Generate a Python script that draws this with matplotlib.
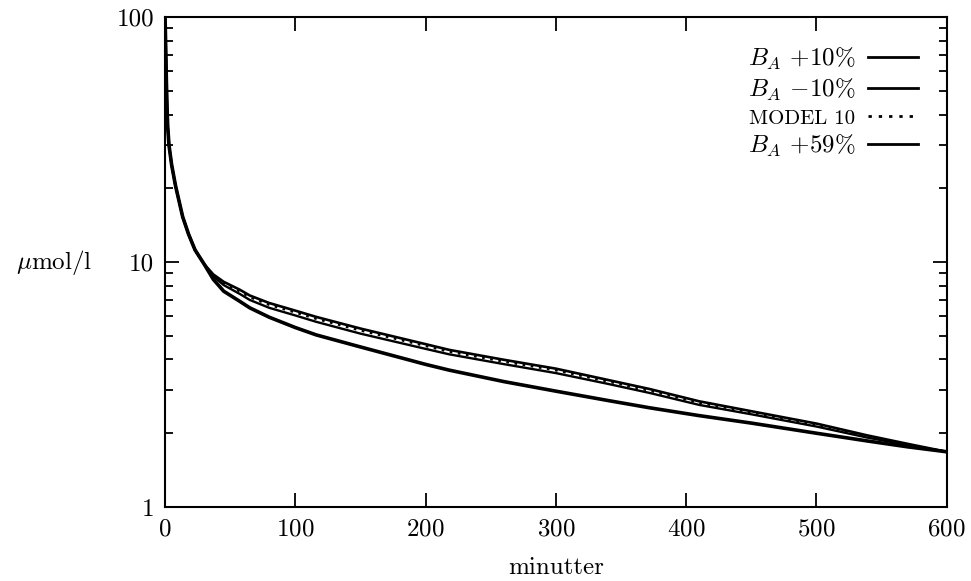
import numpy as np
import matplotlib
matplotlib.use('Agg')
import matplotlib.pyplot as plt
from matplotlib.ticker import FixedLocator, LogLocator, NullFormatter

plt.rcParams['font.family'] = 'serif'
plt.rcParams['font.serif'] = ['cmr10', 'DejaVu Serif']
plt.rcParams['mathtext.fontset'] = 'cm'
plt.rcParams['axes.formatter.use_mathtext'] = True

# values (minutes, umol/l)
t_early = [0, 0.5, 1, 1.5, 2, 3, 5, 8, 13.5, 18, 23, 30]
c_early = [100, 75, 55, 43, 36, 30, 25, 20.5, 15.3, 13.0, 11.2, 9.8]

t_late = [37, 45, 57.5, 65, 80, 100, 116, 150, 200, 218, 260, 300, 340, 372, 410, 450, 500, 539, 570, 600]
c_plus10 = [8.75, 8.05, 7.4, 7.0, 6.5, 6.05, 5.7, 5.1, 4.42, 4.2, 3.83, 3.52, 3.18, 2.92, 2.61, 2.39, 2.13, 1.92, 1.79, 1.68]
c_plus59 = [8.9, 8.3, 7.7, 7.3, 6.8, 6.33, 5.97, 5.35, 4.62, 4.38, 3.99, 3.67, 3.3, 3.03, 2.7, 2.46, 2.19, 1.96, 1.81, 1.68]
c_model10 = [8.85, 8.2, 7.58, 7.18, 6.68, 6.22, 5.86, 5.25, 4.54, 4.3, 3.92, 3.61, 3.25, 2.98, 2.66, 2.43, 2.16, 1.94, 1.8, 1.68]
c_minus10 = [8.5, 7.6, 6.9, 6.5, 5.95, 5.4, 5.04, 4.5, 3.82, 3.62, 3.25, 2.97, 2.72, 2.54, 2.36, 2.2, 2.0, 1.86, 1.76, 1.68]

fig = plt.figure(figsize=(9.71, 5.81), dpi=100)
ax = fig.add_axes([0.170, 0.1274, 0.805, 0.8433])

t_all = t_early + t_late
ax.plot(t_all, c_early + c_plus10, color='black', lw=1.7, label=r'$B_A$ +10%')
ax.plot(t_all, c_early + c_minus10, color='black', lw=2.6, label=r'$B_A$ $-$10%')
ax.plot(t_all, c_early + c_model10, color='black', lw=1.6, ls=(0, (1.2, 2.5)), label='MODEL 10')
ax.plot(t_all, c_early + c_plus59, color='black', lw=1.9, label=r'$B_A$ +59%')

ax.set_yscale('log')
ax.set_xlim(0, 600)
ax.set_ylim(1, 100)
ax.xaxis.set_major_locator(FixedLocator([0, 100, 200, 300, 400, 500, 600]))
ax.yaxis.set_major_locator(FixedLocator([1, 10, 100]))
ax.yaxis.set_minor_locator(LogLocator(subs=np.arange(2, 10)))
ax.yaxis.set_minor_formatter(NullFormatter())
ax.set_yticklabels(['1', '10', '100'])

ax.tick_params(which='both', direction='in', top=True, right=True, labelsize=18, width=1.3)
ax.tick_params(which='major', length=10, pad=8)
ax.tick_params(which='minor', length=6)
for s in ax.spines.values():
    s.set_linewidth(1.5)

ax.set_xlabel('minutter', fontsize=18, labelpad=12)
ax.set_ylabel(r'$\mu$mol/l', fontsize=18, rotation=0, labelpad=45, va='center')

leg = ax.legend(loc='upper right', frameon=False, markerfirst=False, fontsize=18,
                handlelength=2.0, handletextpad=0.5, labelspacing=0.17,
                borderaxespad=0.75)
for txt in leg.get_texts():
    if txt.get_text().startswith('MODEL'):
        txt.set_fontsize(15)
for h in leg.get_lines():
    h.set_linewidth(2.0)

fig.savefig('out.png', dpi=100)
